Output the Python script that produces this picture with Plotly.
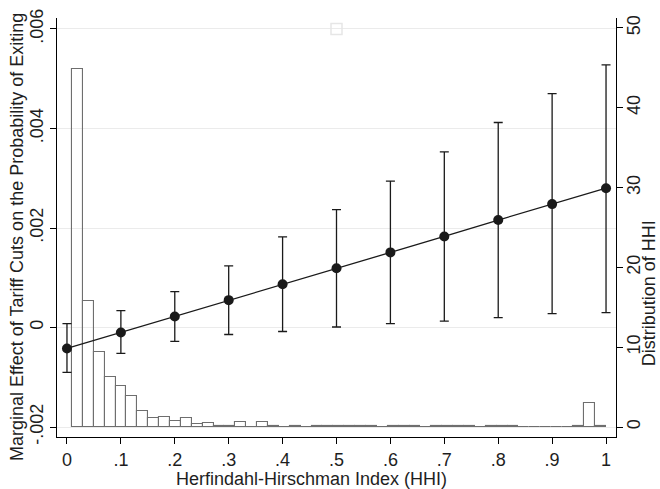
import plotly.graph_objects as go

# ---- Data ----
hhi_points = [0.0, 0.1, 0.2, 0.3, 0.4, 0.5, 0.6, 0.7, 0.8, 0.9, 1.0]
marg_effect = [-0.00042, -0.00010, 0.00022, 0.00055, 0.00087, 0.00119,
               0.00151, 0.00183, 0.00216, 0.00248, 0.00280]
ci_upper = [0.00008, 0.00034, 0.00072, 0.00124, 0.00182, 0.00237,
            0.00294, 0.00353, 0.00412, 0.00470, 0.00528]
ci_lower = [-0.00090, -0.00052, -0.00028, -0.00014, -0.00008, 0.00001,
            0.00008, 0.00013, 0.00020, 0.00028, 0.00030]

# histogram of HHI (density), 49 bins
hist_first_center = 0.0194
hist_bin_width = 0.0202
hist_density = [44.9, 15.8, 9.4, 6.3, 5.2, 3.9, 2.0, 1.1, 1.25, 0.7,
                1.1, 0.38, 0.55, 0.15, 0.15, 0.6, 0.0, 0.6, 0.15, 0.0,
                0.15, 0.0, 0.15, 0.15, 0.15, 0.15, 0.15, 0.15, 0.0, 0.15,
                0.15, 0.15, 0.0, 0.15, 0.15, 0.15, 0.15, 0.0, 0.15, 0.15,
                0.15, 0.0, 0.0, 0.0, 0.0, 0.0, 0.15, 3.05, 0.15]

x_ticks = [0, 0.1, 0.2, 0.3, 0.4, 0.5, 0.6, 0.7, 0.8, 0.9, 1.0]
x_ticklabels = ["0", ".1", ".2", ".3", ".4", ".5", ".6", ".7", ".8", ".9", "1"]
left_ticks = [-0.002, 0, 0.002, 0.004, 0.006]
left_ticklabels = ["-.002", "0", ".002", ".004", ".006"]
right_ticks = [0, 10, 20, 30, 40, 50]
right_ticklabels = ["0", "10", "20", "30", "40", "50"]

legend_marker_x = [0.5]
legend_marker_y = [0.006]

x_title = "Herfindahl-Hirschman Index (HHI)"
left_title = "Marginal Effect of Tariff Cuts on the Probability of Exiting"
right_title = "Distribution of HHI"

FONT = "Liberation Sans, Arial, sans-serif"
TXT = "#1e1e1e"

fig = go.Figure()

fig.add_trace(go.Bar(
    x0=hist_first_center, dx=hist_bin_width, y=hist_density,
    width=hist_bin_width,
    marker=dict(color="rgba(255,255,255,0)", line=dict(color="#6e6e6e", width=1.1)),
    yaxis="y", xaxis="x", showlegend=False, hoverinfo="skip",
))

fig.add_trace(go.Scatter(
    x=hhi_points, y=marg_effect, yaxis="y2", mode="lines+markers",
    line=dict(color="#1a1a1a", width=1.3),
    marker=dict(color="#1a1a1a", size=10, line=dict(width=0)),
    error_y=dict(type="data", symmetric=False,
                 array=[u - m for u, m in zip(ci_upper, marg_effect)],
                 arrayminus=[m - l for m, l in zip(marg_effect, ci_lower)],
                 color="#1a1a1a", thickness=1.3, width=4.5),
    showlegend=False,
))

fig.add_trace(go.Scatter(
    x=legend_marker_x, y=legend_marker_y, yaxis="y2", mode="markers",
    marker=dict(symbol="square-open", size=11, color="#e6e6e6", line=dict(width=1.5)),
    showlegend=False, hoverinfo="skip",
))

axis_common = dict(
    showline=True, linecolor="black", linewidth=1,
    ticks="outside", ticklen=6, tickcolor="black", tickwidth=1,
    tickfont=dict(family=FONT, size=18, color=TXT),
    zeroline=False, automargin=False,
)

title_font = dict(family=FONT, size=18, color=TXT)

fig.update_layout(
    width=660, height=489,
    margin=dict(l=57, r=44, t=18, b=52, autoexpand=False),
    paper_bgcolor="white", plot_bgcolor="white",
    barmode="overlay", bargap=0,
    font=dict(family=FONT, size=18, color=TXT),
    xaxis=dict(
        range=[-0.0185, 1.0185], tickmode="array", tickvals=x_ticks,
        ticktext=x_ticklabels, showgrid=False,
        **axis_common,
    ),
    yaxis=dict(
        side="right", range=[-1.25, 51.25], tickmode="array",
        tickvals=right_ticks, ticktext=right_ticklabels, tickangle=-90,
        showgrid=False, ticklabelstandoff=-5,
        **axis_common,
    ),
    yaxis2=dict(
        overlaying="y", side="left", range=[-0.0022, 0.00622],
        tickmode="array", tickvals=left_ticks, ticktext=left_ticklabels,
        tickangle=-90, showgrid=True, gridcolor="#ebebeb", gridwidth=1,
        **axis_common,
    ),
    annotations=[
        dict(text=x_title, xref="paper", yref="paper", x=0.4544, y=-0.1002,
             showarrow=False, font=title_font, xanchor="center", yanchor="middle"),
        dict(text=left_title, xref="paper", yref="paper", x=-0.0716, y=0.4773,
             showarrow=False, font=title_font, textangle=-90,
             xanchor="center", yanchor="middle"),
        dict(text=right_title, xref="paper", yref="paper", x=1.0595, y=0.3437,
             showarrow=False, font=title_font, textangle=-90,
             xanchor="center", yanchor="middle"),
    ],
)

fig.write_html("out.html")
